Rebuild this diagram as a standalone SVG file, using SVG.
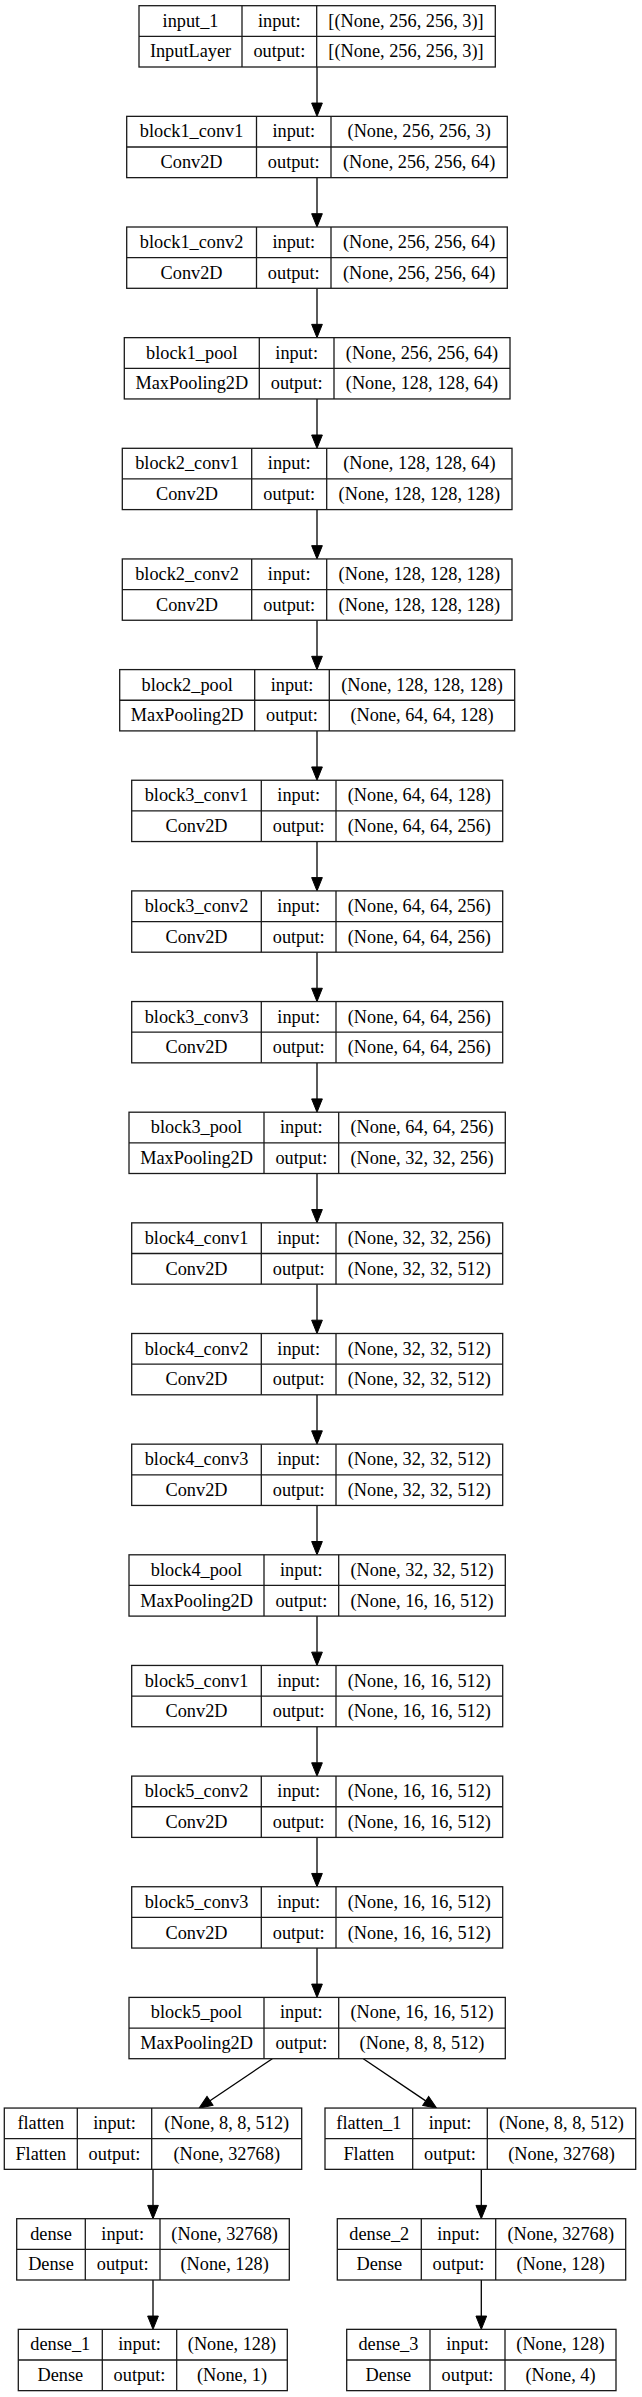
<svg xmlns="http://www.w3.org/2000/svg" width="642" height="2397" viewBox="0 0 642 2397">
<style>
.b{fill:#fff;stroke:#1a1a1a;stroke-width:1.3}
.l{stroke:#1a1a1a;stroke-width:1.3;fill:none}
text{font-family:"Liberation Serif","Times New Roman",serif;font-size:18.3px;text-anchor:middle;fill:#000}
.e{stroke:#000;stroke-width:1.3;fill:none;marker-end:url(#ah)}
</style>
<defs>
<marker id="ah" markerUnits="userSpaceOnUse" markerWidth="14" markerHeight="11" refX="0" refY="5.35" orient="auto" overflow="visible">
<path d="M0,0 L13.3,5.35 L0,10.7 z" fill="#000" stroke="#000" stroke-width="1"/>
</marker>
</defs>
<rect width="642" height="2397" fill="#fff"/>
<g id="connectors">
<line class="e" x1="317" y1="67" x2="317" y2="103.05"/>
<line class="e" x1="317" y1="177.65" x2="317" y2="213.7"/>
<line class="e" x1="317" y1="288.3" x2="317" y2="324.35"/>
<line class="e" x1="317" y1="398.95" x2="317" y2="435"/>
<line class="e" x1="317" y1="509.6" x2="317" y2="545.65"/>
<line class="e" x1="317" y1="620.25" x2="317" y2="656.3"/>
<line class="e" x1="317" y1="730.9" x2="317" y2="766.95"/>
<line class="e" x1="317" y1="841.55" x2="317" y2="877.6"/>
<line class="e" x1="317" y1="952.2" x2="317" y2="988.25"/>
<line class="e" x1="317" y1="1062.85" x2="317" y2="1098.9"/>
<line class="e" x1="317" y1="1173.5" x2="317" y2="1209.55"/>
<line class="e" x1="317" y1="1284.15" x2="317" y2="1320.2"/>
<line class="e" x1="317" y1="1394.8" x2="317" y2="1430.85"/>
<line class="e" x1="317" y1="1505.45" x2="317" y2="1541.5"/>
<line class="e" x1="317" y1="1616.1" x2="317" y2="1652.15"/>
<line class="e" x1="317" y1="1726.75" x2="317" y2="1762.8"/>
<line class="e" x1="317" y1="1837.4" x2="317" y2="1873.45"/>
<line class="e" x1="317" y1="1948.05" x2="317" y2="1984.1"/>
<line class="e" x1="272.3" y1="2058.7" x2="210" y2="2100.8"/>
<line class="e" x1="363.3" y1="2058.7" x2="425.7" y2="2100.9"/>
<line class="e" x1="153" y1="2169.35" x2="153" y2="2205.4"/>
<line class="e" x1="153" y1="2280" x2="153" y2="2316.05"/>
<line class="e" x1="481.3" y1="2169.35" x2="481.3" y2="2205.4"/>
<line class="e" x1="481.3" y1="2280" x2="481.3" y2="2316.05"/>
</g>
<g id="input_1" transform="translate(0,5.7)">
<rect class="b" x="139" y="0" width="356.3" height="61.3"/>
<line class="l" x1="139" y1="30.65" x2="495.3" y2="30.65"/>
<line class="l" x1="242" y1="0" x2="242" y2="61.3"/>
<line class="l" x1="316.7" y1="0" x2="316.7" y2="61.3"/>
<text x="190.5" y="21.1">input_1</text><text x="279.35" y="21.1">input:</text><text x="406" y="21.1">[(None, 256, 256, 3)]</text>
<text x="190.5" y="51.75">InputLayer</text><text x="279.35" y="51.75">output:</text><text x="406" y="51.75">[(None, 256, 256, 3)]</text>
</g>
<g id="block1_conv1" transform="translate(0,116.35)">
<rect class="b" x="126.7" y="0" width="380.6" height="61.3"/>
<line class="l" x1="126.7" y1="30.65" x2="507.3" y2="30.65"/>
<line class="l" x1="256.5" y1="0" x2="256.5" y2="61.3"/>
<line class="l" x1="331" y1="0" x2="331" y2="61.3"/>
<text x="191.6" y="21.1">block1_conv1</text><text x="293.75" y="21.1">input:</text><text x="419.15" y="21.1">(None, 256, 256, 3)</text>
<text x="191.6" y="51.75">Conv2D</text><text x="293.75" y="51.75">output:</text><text x="419.15" y="51.75">(None, 256, 256, 64)</text>
</g>
<g id="block1_conv2" transform="translate(0,227)">
<rect class="b" x="126.7" y="0" width="380.6" height="61.3"/>
<line class="l" x1="126.7" y1="30.65" x2="507.3" y2="30.65"/>
<line class="l" x1="256.5" y1="0" x2="256.5" y2="61.3"/>
<line class="l" x1="331" y1="0" x2="331" y2="61.3"/>
<text x="191.6" y="21.1">block1_conv2</text><text x="293.75" y="21.1">input:</text><text x="419.15" y="21.1">(None, 256, 256, 64)</text>
<text x="191.6" y="51.75">Conv2D</text><text x="293.75" y="51.75">output:</text><text x="419.15" y="51.75">(None, 256, 256, 64)</text>
</g>
<g id="block1_pool" transform="translate(0,337.65)">
<rect class="b" x="124.3" y="0" width="385.7" height="61.3"/>
<line class="l" x1="124.3" y1="30.65" x2="510" y2="30.65"/>
<line class="l" x1="259.3" y1="0" x2="259.3" y2="61.3"/>
<line class="l" x1="334" y1="0" x2="334" y2="61.3"/>
<text x="191.8" y="21.1">block1_pool</text><text x="296.65" y="21.1">input:</text><text x="422" y="21.1">(None, 256, 256, 64)</text>
<text x="191.8" y="51.75">MaxPooling2D</text><text x="296.65" y="51.75">output:</text><text x="422" y="51.75">(None, 128, 128, 64)</text>
</g>
<g id="block2_conv1" transform="translate(0,448.3)">
<rect class="b" x="122.3" y="0" width="389.7" height="61.3"/>
<line class="l" x1="122.3" y1="30.65" x2="512" y2="30.65"/>
<line class="l" x1="251.7" y1="0" x2="251.7" y2="61.3"/>
<line class="l" x1="326.7" y1="0" x2="326.7" y2="61.3"/>
<text x="187" y="21.1">block2_conv1</text><text x="289.2" y="21.1">input:</text><text x="419.35" y="21.1">(None, 128, 128, 64)</text>
<text x="187" y="51.75">Conv2D</text><text x="289.2" y="51.75">output:</text><text x="419.35" y="51.75">(None, 128, 128, 128)</text>
</g>
<g id="block2_conv2" transform="translate(0,558.95)">
<rect class="b" x="122.3" y="0" width="389.7" height="61.3"/>
<line class="l" x1="122.3" y1="30.65" x2="512" y2="30.65"/>
<line class="l" x1="251.7" y1="0" x2="251.7" y2="61.3"/>
<line class="l" x1="326.7" y1="0" x2="326.7" y2="61.3"/>
<text x="187" y="21.1">block2_conv2</text><text x="289.2" y="21.1">input:</text><text x="419.35" y="21.1">(None, 128, 128, 128)</text>
<text x="187" y="51.75">Conv2D</text><text x="289.2" y="51.75">output:</text><text x="419.35" y="51.75">(None, 128, 128, 128)</text>
</g>
<g id="block2_pool" transform="translate(0,669.6)">
<rect class="b" x="119.7" y="0" width="395" height="61.3"/>
<line class="l" x1="119.7" y1="30.65" x2="514.7" y2="30.65"/>
<line class="l" x1="254.7" y1="0" x2="254.7" y2="61.3"/>
<line class="l" x1="329.3" y1="0" x2="329.3" y2="61.3"/>
<text x="187.2" y="21.1">block2_pool</text><text x="292" y="21.1">input:</text><text x="422" y="21.1">(None, 128, 128, 128)</text>
<text x="187.2" y="51.75">MaxPooling2D</text><text x="292" y="51.75">output:</text><text x="422" y="51.75">(None, 64, 64, 128)</text>
</g>
<g id="block3_conv1" transform="translate(0,780.25)">
<rect class="b" x="131.7" y="0" width="371" height="61.3"/>
<line class="l" x1="131.7" y1="30.65" x2="502.7" y2="30.65"/>
<line class="l" x1="261.3" y1="0" x2="261.3" y2="61.3"/>
<line class="l" x1="336" y1="0" x2="336" y2="61.3"/>
<text x="196.5" y="21.1">block3_conv1</text><text x="298.65" y="21.1">input:</text><text x="419.35" y="21.1">(None, 64, 64, 128)</text>
<text x="196.5" y="51.75">Conv2D</text><text x="298.65" y="51.75">output:</text><text x="419.35" y="51.75">(None, 64, 64, 256)</text>
</g>
<g id="block3_conv2" transform="translate(0,890.9)">
<rect class="b" x="131.7" y="0" width="371" height="61.3"/>
<line class="l" x1="131.7" y1="30.65" x2="502.7" y2="30.65"/>
<line class="l" x1="261.3" y1="0" x2="261.3" y2="61.3"/>
<line class="l" x1="336" y1="0" x2="336" y2="61.3"/>
<text x="196.5" y="21.1">block3_conv2</text><text x="298.65" y="21.1">input:</text><text x="419.35" y="21.1">(None, 64, 64, 256)</text>
<text x="196.5" y="51.75">Conv2D</text><text x="298.65" y="51.75">output:</text><text x="419.35" y="51.75">(None, 64, 64, 256)</text>
</g>
<g id="block3_conv3" transform="translate(0,1001.55)">
<rect class="b" x="131.7" y="0" width="371" height="61.3"/>
<line class="l" x1="131.7" y1="30.65" x2="502.7" y2="30.65"/>
<line class="l" x1="261.3" y1="0" x2="261.3" y2="61.3"/>
<line class="l" x1="336" y1="0" x2="336" y2="61.3"/>
<text x="196.5" y="21.1">block3_conv3</text><text x="298.65" y="21.1">input:</text><text x="419.35" y="21.1">(None, 64, 64, 256)</text>
<text x="196.5" y="51.75">Conv2D</text><text x="298.65" y="51.75">output:</text><text x="419.35" y="51.75">(None, 64, 64, 256)</text>
</g>
<g id="block3_pool" transform="translate(0,1112.2)">
<rect class="b" x="129" y="0" width="376.3" height="61.3"/>
<line class="l" x1="129" y1="30.65" x2="505.3" y2="30.65"/>
<line class="l" x1="264" y1="0" x2="264" y2="61.3"/>
<line class="l" x1="338.7" y1="0" x2="338.7" y2="61.3"/>
<text x="196.5" y="21.1">block3_pool</text><text x="301.35" y="21.1">input:</text><text x="422" y="21.1">(None, 64, 64, 256)</text>
<text x="196.5" y="51.75">MaxPooling2D</text><text x="301.35" y="51.75">output:</text><text x="422" y="51.75">(None, 32, 32, 256)</text>
</g>
<g id="block4_conv1" transform="translate(0,1222.85)">
<rect class="b" x="131.7" y="0" width="371" height="61.3"/>
<line class="l" x1="131.7" y1="30.65" x2="502.7" y2="30.65"/>
<line class="l" x1="261.3" y1="0" x2="261.3" y2="61.3"/>
<line class="l" x1="336" y1="0" x2="336" y2="61.3"/>
<text x="196.5" y="21.1">block4_conv1</text><text x="298.65" y="21.1">input:</text><text x="419.35" y="21.1">(None, 32, 32, 256)</text>
<text x="196.5" y="51.75">Conv2D</text><text x="298.65" y="51.75">output:</text><text x="419.35" y="51.75">(None, 32, 32, 512)</text>
</g>
<g id="block4_conv2" transform="translate(0,1333.5)">
<rect class="b" x="131.7" y="0" width="371" height="61.3"/>
<line class="l" x1="131.7" y1="30.65" x2="502.7" y2="30.65"/>
<line class="l" x1="261.3" y1="0" x2="261.3" y2="61.3"/>
<line class="l" x1="336" y1="0" x2="336" y2="61.3"/>
<text x="196.5" y="21.1">block4_conv2</text><text x="298.65" y="21.1">input:</text><text x="419.35" y="21.1">(None, 32, 32, 512)</text>
<text x="196.5" y="51.75">Conv2D</text><text x="298.65" y="51.75">output:</text><text x="419.35" y="51.75">(None, 32, 32, 512)</text>
</g>
<g id="block4_conv3" transform="translate(0,1444.15)">
<rect class="b" x="131.7" y="0" width="371" height="61.3"/>
<line class="l" x1="131.7" y1="30.65" x2="502.7" y2="30.65"/>
<line class="l" x1="261.3" y1="0" x2="261.3" y2="61.3"/>
<line class="l" x1="336" y1="0" x2="336" y2="61.3"/>
<text x="196.5" y="21.1">block4_conv3</text><text x="298.65" y="21.1">input:</text><text x="419.35" y="21.1">(None, 32, 32, 512)</text>
<text x="196.5" y="51.75">Conv2D</text><text x="298.65" y="51.75">output:</text><text x="419.35" y="51.75">(None, 32, 32, 512)</text>
</g>
<g id="block4_pool" transform="translate(0,1554.8)">
<rect class="b" x="129" y="0" width="376.3" height="61.3"/>
<line class="l" x1="129" y1="30.65" x2="505.3" y2="30.65"/>
<line class="l" x1="264" y1="0" x2="264" y2="61.3"/>
<line class="l" x1="338.7" y1="0" x2="338.7" y2="61.3"/>
<text x="196.5" y="21.1">block4_pool</text><text x="301.35" y="21.1">input:</text><text x="422" y="21.1">(None, 32, 32, 512)</text>
<text x="196.5" y="51.75">MaxPooling2D</text><text x="301.35" y="51.75">output:</text><text x="422" y="51.75">(None, 16, 16, 512)</text>
</g>
<g id="block5_conv1" transform="translate(0,1665.45)">
<rect class="b" x="131.7" y="0" width="371" height="61.3"/>
<line class="l" x1="131.7" y1="30.65" x2="502.7" y2="30.65"/>
<line class="l" x1="261.3" y1="0" x2="261.3" y2="61.3"/>
<line class="l" x1="336" y1="0" x2="336" y2="61.3"/>
<text x="196.5" y="21.1">block5_conv1</text><text x="298.65" y="21.1">input:</text><text x="419.35" y="21.1">(None, 16, 16, 512)</text>
<text x="196.5" y="51.75">Conv2D</text><text x="298.65" y="51.75">output:</text><text x="419.35" y="51.75">(None, 16, 16, 512)</text>
</g>
<g id="block5_conv2" transform="translate(0,1776.1)">
<rect class="b" x="131.7" y="0" width="371" height="61.3"/>
<line class="l" x1="131.7" y1="30.65" x2="502.7" y2="30.65"/>
<line class="l" x1="261.3" y1="0" x2="261.3" y2="61.3"/>
<line class="l" x1="336" y1="0" x2="336" y2="61.3"/>
<text x="196.5" y="21.1">block5_conv2</text><text x="298.65" y="21.1">input:</text><text x="419.35" y="21.1">(None, 16, 16, 512)</text>
<text x="196.5" y="51.75">Conv2D</text><text x="298.65" y="51.75">output:</text><text x="419.35" y="51.75">(None, 16, 16, 512)</text>
</g>
<g id="block5_conv3" transform="translate(0,1886.75)">
<rect class="b" x="131.7" y="0" width="371" height="61.3"/>
<line class="l" x1="131.7" y1="30.65" x2="502.7" y2="30.65"/>
<line class="l" x1="261.3" y1="0" x2="261.3" y2="61.3"/>
<line class="l" x1="336" y1="0" x2="336" y2="61.3"/>
<text x="196.5" y="21.1">block5_conv3</text><text x="298.65" y="21.1">input:</text><text x="419.35" y="21.1">(None, 16, 16, 512)</text>
<text x="196.5" y="51.75">Conv2D</text><text x="298.65" y="51.75">output:</text><text x="419.35" y="51.75">(None, 16, 16, 512)</text>
</g>
<g id="block5_pool" transform="translate(0,1997.4)">
<rect class="b" x="129" y="0" width="376.3" height="61.3"/>
<line class="l" x1="129" y1="30.65" x2="505.3" y2="30.65"/>
<line class="l" x1="264" y1="0" x2="264" y2="61.3"/>
<line class="l" x1="338.7" y1="0" x2="338.7" y2="61.3"/>
<text x="196.5" y="21.1">block5_pool</text><text x="301.35" y="21.1">input:</text><text x="422" y="21.1">(None, 16, 16, 512)</text>
<text x="196.5" y="51.75">MaxPooling2D</text><text x="301.35" y="51.75">output:</text><text x="422" y="51.75">(None, 8, 8, 512)</text>
</g>
<g id="flatten" transform="translate(0,2108.05)">
<rect class="b" x="4.3" y="0" width="297.4" height="61.3"/>
<line class="l" x1="4.3" y1="30.65" x2="301.7" y2="30.65"/>
<line class="l" x1="77.3" y1="0" x2="77.3" y2="61.3"/>
<line class="l" x1="151.7" y1="0" x2="151.7" y2="61.3"/>
<text x="40.8" y="21.1">flatten</text><text x="114.5" y="21.1">input:</text><text x="226.7" y="21.1">(None, 8, 8, 512)</text>
<text x="40.8" y="51.75">Flatten</text><text x="114.5" y="51.75">output:</text><text x="226.7" y="51.75">(None, 32768)</text>
</g>
<g id="dense" transform="translate(0,2218.7)">
<rect class="b" x="16.7" y="0" width="272.6" height="61.3"/>
<line class="l" x1="16.7" y1="30.65" x2="289.3" y2="30.65"/>
<line class="l" x1="85.3" y1="0" x2="85.3" y2="61.3"/>
<line class="l" x1="160" y1="0" x2="160" y2="61.3"/>
<text x="51" y="21.1">dense</text><text x="122.65" y="21.1">input:</text><text x="224.65" y="21.1">(None, 32768)</text>
<text x="51" y="51.75">Dense</text><text x="122.65" y="51.75">output:</text><text x="224.65" y="51.75">(None, 128)</text>
</g>
<g id="dense_1" transform="translate(0,2329.35)">
<rect class="b" x="18.3" y="0" width="269" height="61.3"/>
<line class="l" x1="18.3" y1="30.65" x2="287.3" y2="30.65"/>
<line class="l" x1="102.3" y1="0" x2="102.3" y2="61.3"/>
<line class="l" x1="176.7" y1="0" x2="176.7" y2="61.3"/>
<text x="60.3" y="21.1">dense_1</text><text x="139.5" y="21.1">input:</text><text x="232" y="21.1">(None, 128)</text>
<text x="60.3" y="51.75">Dense</text><text x="139.5" y="51.75">output:</text><text x="232" y="51.75">(None, 1)</text>
</g>
<g id="flatten_1" transform="translate(0,2108.05)">
<rect class="b" x="325" y="0" width="310.7" height="61.3"/>
<line class="l" x1="325" y1="30.65" x2="635.7" y2="30.65"/>
<line class="l" x1="412.7" y1="0" x2="412.7" y2="61.3"/>
<line class="l" x1="487.3" y1="0" x2="487.3" y2="61.3"/>
<text x="368.85" y="21.1">flatten_1</text><text x="450" y="21.1">input:</text><text x="561.5" y="21.1">(None, 8, 8, 512)</text>
<text x="368.85" y="51.75">Flatten</text><text x="450" y="51.75">output:</text><text x="561.5" y="51.75">(None, 32768)</text>
</g>
<g id="dense_2" transform="translate(0,2218.7)">
<rect class="b" x="337.3" y="0" width="288.4" height="61.3"/>
<line class="l" x1="337.3" y1="30.65" x2="625.7" y2="30.65"/>
<line class="l" x1="421.3" y1="0" x2="421.3" y2="61.3"/>
<line class="l" x1="495.7" y1="0" x2="495.7" y2="61.3"/>
<text x="379.3" y="21.1">dense_2</text><text x="458.5" y="21.1">input:</text><text x="560.7" y="21.1">(None, 32768)</text>
<text x="379.3" y="51.75">Dense</text><text x="458.5" y="51.75">output:</text><text x="560.7" y="51.75">(None, 128)</text>
</g>
<g id="dense_3" transform="translate(0,2329.35)">
<rect class="b" x="346.7" y="0" width="269.3" height="61.3"/>
<line class="l" x1="346.7" y1="30.65" x2="616" y2="30.65"/>
<line class="l" x1="430" y1="0" x2="430" y2="61.3"/>
<line class="l" x1="505" y1="0" x2="505" y2="61.3"/>
<text x="388.35" y="21.1">dense_3</text><text x="467.5" y="21.1">input:</text><text x="560.5" y="21.1">(None, 128)</text>
<text x="388.35" y="51.75">Dense</text><text x="467.5" y="51.75">output:</text><text x="560.5" y="51.75">(None, 4)</text>
</g>
</svg>
